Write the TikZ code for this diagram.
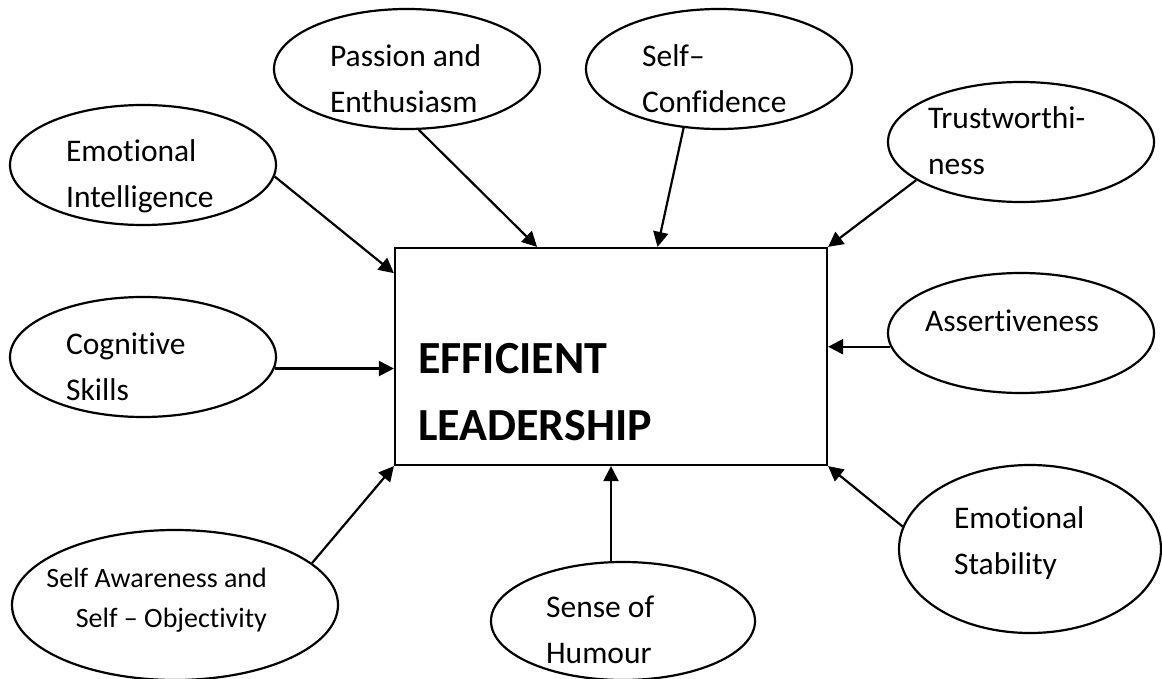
\documentclass[tikz,border=0pt]{standalone}
\usepackage{fontspec}
\setmainfont[Ligatures=NoCommon]{Carlito}
\usetikzlibrary{shapes.geometric, arrows.meta}

\begin{document}
\begin{tikzpicture}[x=0.5pt, y=-0.5pt, ->, >={Triangle[length=7.5pt, width=7.5pt]}, line width=1.1pt,
    trait/.style={ellipse, draw, inner sep=0pt, minimum width=133pt, minimum height=60pt},
    traittext/.style={anchor=north west, align=left, inner sep=0pt, font=\fontsize{15.75pt}{23pt}\selectfont},
    core/.style={rectangle, draw, inner sep=0pt, minimum width=216pt, minimum height=108.5pt}]
    \useasboundingbox (0,0) rectangle (1162,679);

    \node[core]     (EfficientLeadership)   at (611,356.5)  {};
    \node[anchor=north west, align=left, inner sep=0pt, font=\bfseries\fontsize{23pt}{33.5pt}\selectfont]
                    (LeadershipText)        at (417,342)    {EFFICIENT\\LEADERSHIP};

    \node[trait]    (EmotionalIntelligence) at (143,165)    {};
    \node[trait]    (PassionEnthusiasm)     at (407,69)     {};
    \node[trait]    (SelfConfidence)        at (719,69)     {};
    \node[trait]    (Trustworthiness)       at (1021,142)   {};
    \node[trait]    (Assertiveness)         at (1021,333)   {};
    \node[trait]    (CognitiveSkills)       at (143,357)    {};
    \node[trait, minimum width=131pt, minimum height=84pt]
                    (EmotionalStability)    at (1030,549)   {};
    \node[trait, minimum width=132pt, minimum height=59pt]
                    (SenseOfHumour)         at (623,621)    {};
    \node[trait, minimum width=163pt, minimum height=75pt]
                    (SelfAwareness)         at (175,605)    {};

    \node[traittext] (IntelligenceText)     at (65,139)     {Emotional\\Intelligence};
    \node[traittext] (PassionText)          at (329,44)     {Passion and\\Enthusiasm};
    \node[traittext] (ConfidenceText)       at (641,44)     {Self–\\Confidence};
    \node[traittext] (TrustText)            at (927,106)    {Trustworthi-\\ness};
    \node[traittext] (AssertText)           at (924,309)    {Assertiveness};
    \node[traittext] (CognitiveText)        at (65,332)     {Cognitive\\Skills};
    \node[traittext] (StabilityText)        at (953,506)    {Emotional\\Stability};
    \node[traittext] (HumourText)           at (545,595)    {Sense of\\Humour};
    \node[traittext, anchor=north east, align=right, font=\fontsize{14pt}{20pt}\selectfont]
                     (AwarenessText)        at (268,567)    {Self Awareness and\\Self – Objectivity};

    \path
    (EmotionalIntelligence.-5)  edge (EfficientLeadership.159)
    (PassionEnthusiasm.-79)     edge (EfficientLeadership.124)
    (SelfConfidence.239)        edge (EfficientLeadership.67)
    (Trustworthiness.200)       edge (EfficientLeadership.north east)
    (Assertiveness.186)         edge (Assertiveness.186 -| EfficientLeadership.east)
    (CognitiveSkills.-5)        edge (CognitiveSkills.-5 -| EfficientLeadership.west)
    (EmotionalStability.170)    edge (EfficientLeadership.south east)
    (SenseOfHumour.north -| EfficientLeadership.south) edge (EfficientLeadership.south)
    (SelfAwareness.17)          edge (EfficientLeadership.south west);

\end{tikzpicture}
\end{document}
